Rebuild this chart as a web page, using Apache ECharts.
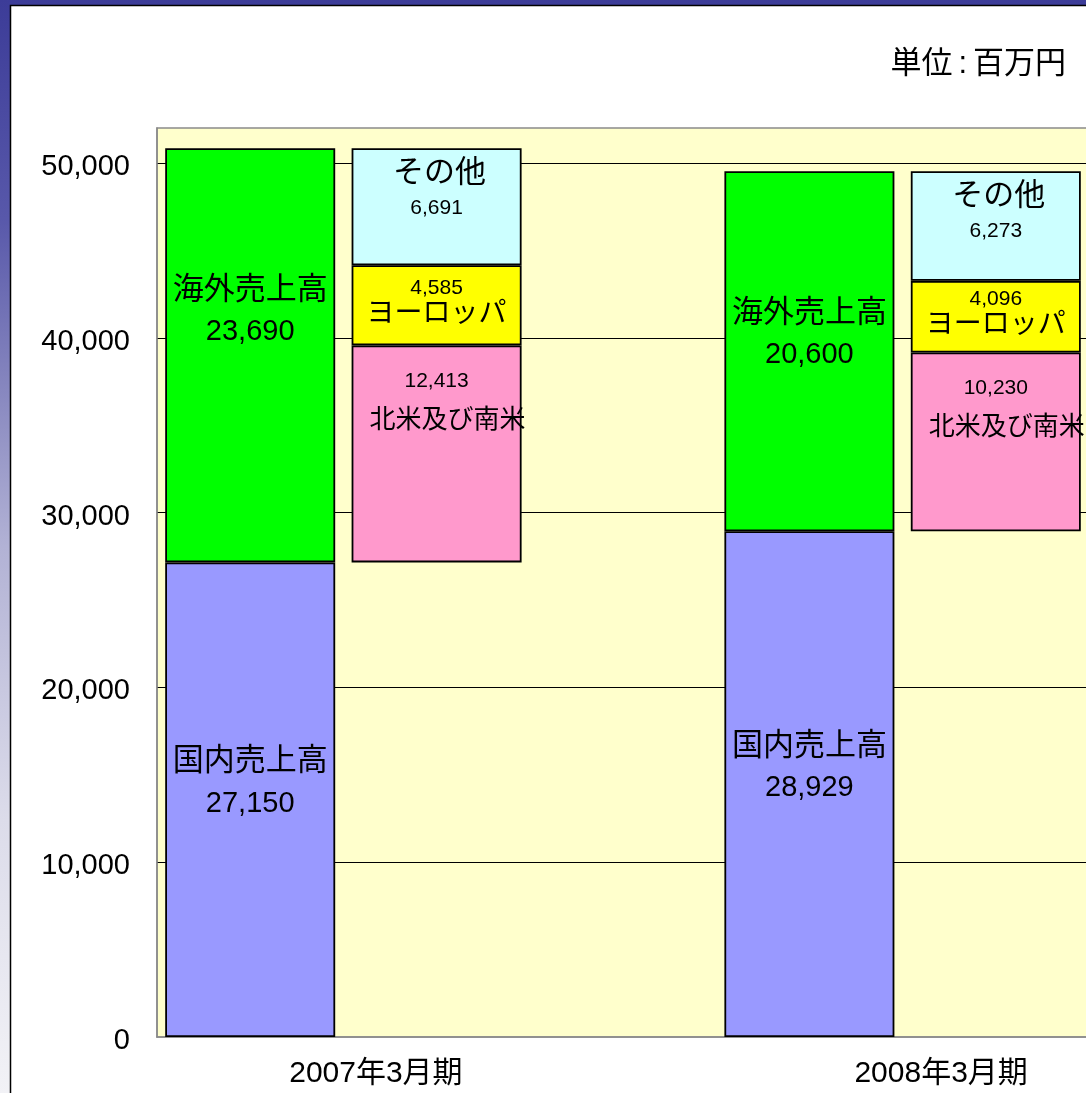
<!DOCTYPE html>
<html>
<head>
<meta charset="utf-8">
<script src="https://cdn.jsdelivr.net/npm/echarts@6/dist/echarts.min.js"></script>
<style>
html,body{margin:0;padding:0;background:#fff;}
#c{width:1086px;height:1093px;}
</style>
</head>
<body>
<div id="c"></div>
<script>
// ---- data ----
const periods = ['2007年3月期', '2008年3月期'];
const domestic = [27150, 28929];   // 国内売上高
const overseas = [23690, 20600];   // 海外売上高
const americas = [12413, 10230];   // 北米及び南米
const europe = [4585, 4096];       // ヨーロッパ
const others = [6691, 6273];       // その他
const yTicks = [0, 10000, 20000, 30000, 40000, 50000];
const unitParts = ['単位', ':', '百万円'];

// slots on the category axis: [total bar, region bar, gap, total bar, region bar]
const slots = ['p0-total', 'p0-region', 'gap', 'p1-total', 'p1-region'];
const totalSlot = [0, 3];
const regionSlot = [1, 4];
function toSlots(arr, slotIdx) {
  const out = slots.map(() => null);
  arr.forEach((v, i) => { out[slotIdx[i]] = v; });
  return out;
}
const fmt = v => Number(v).toLocaleString('en-US');

const FONT = '"Liberation Sans", "Noto Sans CJK JP", sans-serif';
const border = { borderColor: '#000', borderWidth: 1.8 };

const chart = echarts.init(document.getElementById('c'));
chart.setOption({
  animation: false,
  textStyle: { fontFamily: FONT, color: '#000' },
  graphic: [
    { type: 'rect', z: -100, silent: true, shape: { x: 0, y: 0, width: 1086, height: 1093 },
      style: { fill: new echarts.graphic.LinearGradient(0, 0, 0, 1, [
        { offset: 0, color: '#3C3C98' },
        { offset: 0.2, color: '#5858AA' },
        { offset: 0.35, color: '#8585BE' },
        { offset: 0.5, color: '#B2B2D5' },
        { offset: 0.75, color: '#DCDCEA' },
        { offset: 1, color: '#F2F2F6' }
      ]) } },
    { type: 'rect', z: -99, silent: true, shape: { x: 10.5, y: 5.5, width: 1200, height: 1200 },
      style: { fill: '#fff', stroke: '#000', lineWidth: 1.5 } }
  ],
  title: {
    text: '{a|' + unitParts[0] + '}{c|' + unitParts[1] + '}{a|' + unitParts[2] + '}',
    right: 15, top: 44,
    textStyle: {
      fontFamily: FONT, fontSize: 31, fontWeight: 'normal', color: '#000',
      rich: {
        a: { fontFamily: FONT, fontSize: 31, color: '#000' },
        c: { fontFamily: FONT, fontSize: 31, color: '#000', padding: [0, 6, 0, 6] }
      }
    }
  },
  grid: {
    left: 157, top: 128, width: 932, bottom: 56,
    outerBoundsMode: 'none', containLabel: false,
    show: true, backgroundColor: '#FFFFCC', borderColor: '#8a8a8a', borderWidth: 1.5
  },
  xAxis: {
    type: 'category', data: slots,
    axisLine: { show: true, lineStyle: { color: '#8a8a8a', width: 1.5 } },
    axisTick: { show: false },
    axisLabel: {
      interval: 0, margin: 22, fontSize: 30, color: '#000', fontFamily: FONT,
      align: 'left', hideOverlap: false,
      formatter: (v, i) => {
        const k = totalSlot.indexOf(i);
        return k >= 0 ? '{p' + k + '|' + periods[k] + '}' : '';
      },
      rich: {
        p0: { fontSize: 30, fontFamily: FONT, color: '#000', padding: [0, 0, 0, 39] },
        p1: { fontSize: 30, fontFamily: FONT, color: '#000', padding: [0, 0, 0, 45] }
      }
    }
  },
  yAxis: {
    type: 'value', min: 0, max: 52000, interval: 10000,
    axisLine: { show: true, lineStyle: { color: '#8a8a8a', width: 1.5 } },
    axisTick: { show: false },
    splitLine: { show: true, showMinLine: false, showMaxLine: false, lineStyle: { color: '#000', width: 1 } },
    axisLabel: {
      margin: 27, fontSize: 29, color: '#000', fontFamily: FONT, showMaxLabel: false,
      formatter: v => yTicks.indexOf(v) >= 0 ? '{v|' + fmt(v) + '}' : '',
      rich: { v: { fontSize: 29, fontFamily: FONT, color: '#000', padding: [8, 0, 0, 0] } }
    }
  },
  series: [
    {
      name: '国内売上高', type: 'bar', stack: 'all', barWidth: 170,
      data: toSlots(domestic, totalSlot),
      itemStyle: Object.assign({ color: '#9999FF' }, border),
      label: {
        show: true, position: 'inside', offset: [0, -17],
        formatter: p => '{a|' + p.seriesName + '}\n{n|' + fmt(p.value) + '}',
        rich: {
          a: { fontSize: 31, lineHeight: 42, fontFamily: FONT, color: '#000' },
          n: { fontSize: 29, lineHeight: 42, fontFamily: FONT, color: '#000' }
        }
      }
    },
    {
      name: '海外売上高', type: 'bar', stack: 'all', barWidth: 170,
      data: toSlots(overseas, totalSlot),
      itemStyle: Object.assign({ color: '#00FF00' }, border),
      label: {
        show: true, position: ['50%', 163], align: 'center', verticalAlign: 'middle',
        formatter: p => '{a|' + p.seriesName + '}\n{n|' + fmt(p.value) + '}',
        rich: {
          a: { fontSize: 31, lineHeight: 42, fontFamily: FONT, color: '#000' },
          n: { fontSize: 29, lineHeight: 42, fontFamily: FONT, color: '#000' }
        }
      }
    },
    {
      name: 'base', type: 'bar', stack: 'all', barWidth: 170, silent: true,
      data: toSlots(domestic, regionSlot),
      itemStyle: { color: 'rgba(0,0,0,0)', borderWidth: 0 },
      label: { show: false }
    },
    {
      name: '北米及び南米', type: 'bar', stack: 'all', barWidth: 170,
      data: toSlots(americas, regionSlot),
      itemStyle: Object.assign({ color: '#FF99CC' }, border),
      label: {
        show: true, position: ['50%', 20], align: 'center', verticalAlign: 'top',
        formatter: p => '{b|' + fmt(p.value) + '}\n{a|' + p.seriesName + '}',
        rich: {
          b: { fontSize: 21, lineHeight: 32, fontFamily: FONT, color: '#000' },
          a: { fontSize: 26, lineHeight: 46, fontFamily: FONT, color: '#000', padding: [0, 0, 0, 22] }
        }
      }
    },
    {
      name: 'ヨーロッパ', type: 'bar', stack: 'all', barWidth: 170,
      data: toSlots(europe, regionSlot),
      itemStyle: Object.assign({ color: '#FFFF00' }, border),
      label: {
        show: true, position: 'inside', offset: [0, -2],
        formatter: p => '{b|' + fmt(p.value) + '}\n{a|' + p.seriesName + '}',
        rich: {
          b: { fontSize: 21, lineHeight: 22, fontFamily: FONT, color: '#000' },
          a: { fontSize: 28, lineHeight: 30, fontFamily: FONT, color: '#000' }
        }
      }
    },
    {
      name: 'その他', type: 'bar', stack: 'all', barWidth: 170,
      data: toSlots(others, regionSlot),
      itemStyle: Object.assign({ color: '#CCFFFF' }, border),
      label: {
        show: true, position: ['50%', 7], align: 'center', verticalAlign: 'top',
        formatter: p => '{a|' + p.seriesName + '}\n{b|' + fmt(p.value) + '}',
        rich: {
          a: { fontSize: 31, lineHeight: 36, fontFamily: FONT, color: '#000', padding: [0, 0, 0, 6] },
          b: { fontSize: 21, lineHeight: 34, fontFamily: FONT, color: '#000' }
        }
      }
    }
  ]
});
</script>
</body>
</html>
